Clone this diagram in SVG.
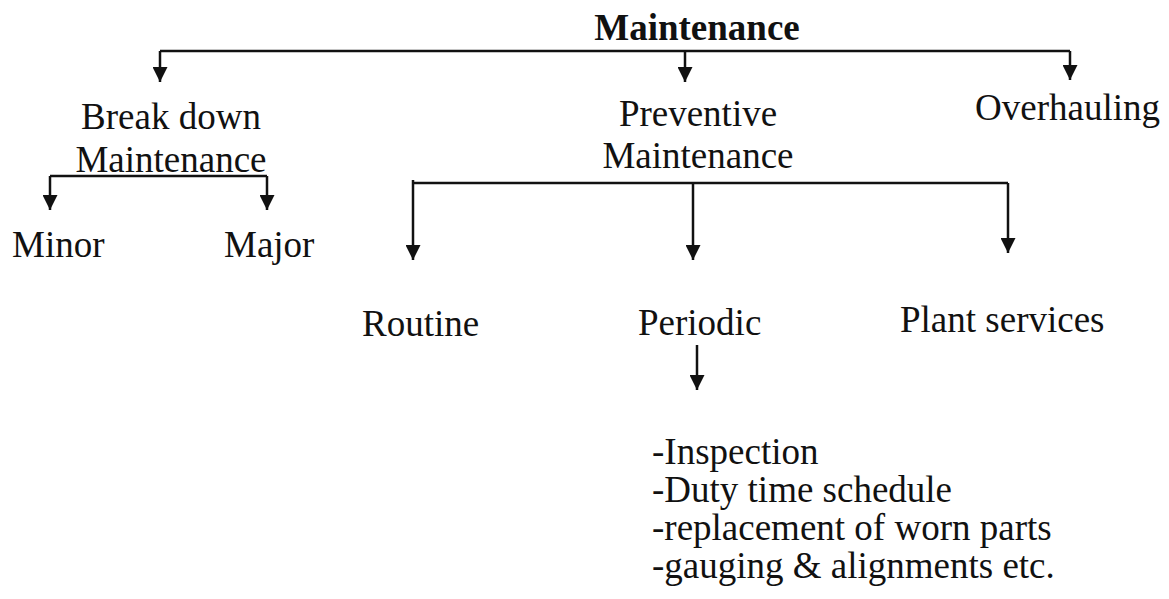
<svg xmlns="http://www.w3.org/2000/svg" width="1169" height="599" viewBox="0 0 1169 599">
<style>
text{font-family:"Liberation Serif","Times New Roman",serif;font-size:37px;fill:#111}
.b{font-weight:bold}
.c{stroke:#111;stroke-width:2.5;fill:none}
.a{marker-end:url(#ah)}
</style>
<defs>
<marker id="ah" viewBox="0 0 16 16" refX="16" refY="8" markerWidth="16" markerHeight="15" markerUnits="userSpaceOnUse" orient="auto">
<path d="M0,0 L16,8 L0,16 z" fill="#111"/>
</marker>
</defs>
<rect width="1169" height="599" fill="#fff"/>
<g id="connectors">
<path class="c" d="M160,51 H1070"/>
<path class="c a" d="M160,51 V82"/>
<path class="c a" d="M685,51 V82"/>
<path class="c a" d="M1070,51 V80"/>
<path class="c" d="M50,176 H267"/>
<path class="c a" d="M50,176 V210"/>
<path class="c a" d="M267,176 V210"/>
<path class="c" d="M413,183 H1008"/>
<path class="c a" d="M413,180 V260"/>
<path class="c a" d="M693,183 V260"/>
<path class="c a" d="M1008,183 V253"/>
<path class="c a" d="M697,345 V390"/>
</g>
<g id="maintenance"><text class="b" x="697" y="40" text-anchor="middle">Maintenance</text></g>
<g id="breakdown"><text x="171" y="129" text-anchor="middle">Break down</text><text x="171" y="172" text-anchor="middle">Maintenance</text></g>
<g id="preventive"><text x="698" y="126" text-anchor="middle">Preventive</text><text x="698" y="168" text-anchor="middle">Maintenance</text></g>
<g id="overhauling"><text x="975" y="120">Overhauling</text></g>
<g id="minor"><text x="12" y="257">Minor</text></g>
<g id="major"><text x="224" y="257">Major</text></g>
<g id="routine"><text x="362" y="336">Routine</text></g>
<g id="periodic"><text x="638" y="335">Periodic</text></g>
<g id="plant"><text x="900" y="332">Plant services</text></g>
<g id="list">
<text x="652" y="464">-Inspection</text>
<text x="652" y="502">-Duty time schedule</text>
<text x="652" y="540">-replacement of worn parts</text>
<text x="652" y="578">-gauging &amp; alignments etc.</text>
</g>
</svg>
